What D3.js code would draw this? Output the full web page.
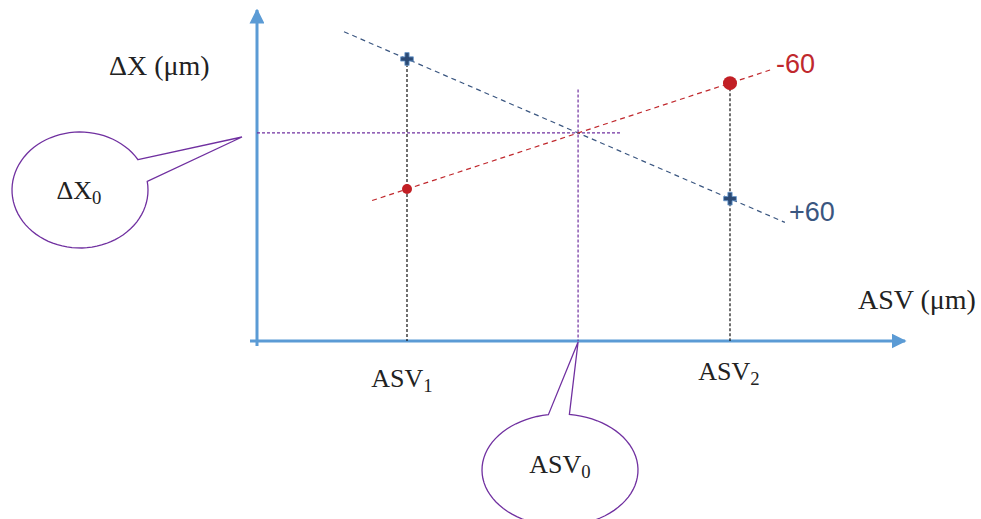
<!DOCTYPE html>
<html>
<head>
<meta charset="utf-8">
<script src="https://cdn.jsdelivr.net/npm/d3@7"></script>
<style>
  body { margin: 0; background: #fff; }
  text { font-family: "Liberation Serif", "DejaVu Serif", serif; }
</style>
</head>
<body>
<div id="chart"></div>
<script>
// data (x in ASV units, y in ΔX units)
const asvPoints = [1, 2];
const asvLabels = ["1", "2"];
const seriesNames = ["+60", "-60"];
const plus60 = [8.52, 4.30];
const minus60 = [4.59, 7.79];
const plusExtent = [0.805, 2.17];
const minusExtent = [0.892, 2.124];
const axisMin = [0.5356, 0];   // where the two axes cross

const W = 981, H = 519;
const svg = d3.select("#chart").append("svg")
    .attr("width", W).attr("height", H)
    .attr("viewBox", `0 0 ${W} ${H}`);

const x = d3.scaleLinear().domain([1, 2]).range([407, 730]);
const y = d3.scaleLinear().domain([0, 10]).range([341, 10]);

const blue = "#5B9BD5", navy = "#3A5680", red = "#C0282D", purple = "#7030A0";

// line helpers
const lineFn = (vals) => {
    const m = (vals[1] - vals[0]) / (asvPoints[1] - asvPoints[0]);
    return t => vals[0] + m * (t - asvPoints[0]);
};
const fPlus = lineFn(plus60), fMinus = lineFn(minus60);
const mP = plus60[1] - plus60[0], mM = minus60[1] - minus60[0];
const x0 = asvPoints[0] + (minus60[0] - plus60[0]) / (mP - mM);
const y0 = fPlus(x0);

// axes
svg.append("defs").append("marker")
    .attr("id", "arr").attr("viewBox", "0 0 10 10")
    .attr("refX", 9).attr("refY", 5)
    .attr("markerWidth", 5).attr("markerHeight", 5)
    .attr("markerUnits", "strokeWidth")
    .attr("orient", "auto")
  .append("path").attr("d", "M0,0L10,5L0,10z").attr("fill", blue);

svg.append("line")
    .attr("x1", x(axisMin[0])).attr("y1", y(-0.15))
    .attr("x2", x(axisMin[0])).attr("y2", y(10))
    .attr("stroke", blue).attr("stroke-width", 3).attr("marker-end", "url(#arr)");
svg.append("line")
    .attr("x1", x(0.514)).attr("y1", y(axisMin[1]))
    .attr("x2", x(2.542)).attr("y2", y(axisMin[1]))
    .attr("stroke", blue).attr("stroke-width", 3).attr("marker-end", "url(#arr)");

// guides to ASV0 / ΔX0
svg.append("line")
    .attr("x1", x(axisMin[0])).attr("y1", y(y0))
    .attr("x2", x(x0) + 42).attr("y2", y(y0))
    .attr("stroke", purple).attr("stroke-width", 1.2).attr("stroke-dasharray", "3,2");
svg.append("line")
    .attr("x1", x(x0)).attr("y1", y(7.6))
    .attr("x2", x(x0)).attr("y2", y(0))
    .attr("stroke", purple).attr("stroke-width", 1.2).attr("stroke-dasharray", "3,2");

// vertical drops at ASV1/ASV2
asvPoints.forEach((a, i) => {
    svg.append("line")
        .attr("x1", x(a)).attr("y1", y(Math.max(plus60[i], minus60[i])))
        .attr("x2", x(a)).attr("y2", y(0))
        .attr("stroke", "#111").attr("stroke-width", 1.2).attr("stroke-dasharray", "3,2");
});

// dashed trend lines
svg.append("line")
    .attr("x1", x(plusExtent[0])).attr("y1", y(fPlus(plusExtent[0])))
    .attr("x2", x(plusExtent[1])).attr("y2", y(fPlus(plusExtent[1])))
    .attr("stroke", navy).attr("stroke-width", 1.2).attr("stroke-dasharray", "5,4");
svg.append("line")
    .attr("x1", x(minusExtent[0])).attr("y1", y(fMinus(minusExtent[0])))
    .attr("x2", x(minusExtent[1])).attr("y2", y(fMinus(minusExtent[1])))
    .attr("stroke", red).attr("stroke-width", 1.2).attr("stroke-dasharray", "5,4");

// markers
svg.selectAll(".plus").data(plus60).enter().append("path")
    .attr("class", "plus")
    .attr("transform", (d, i) => `translate(${x(asvPoints[i])},${y(d)})`)
    .attr("d", d3.symbol(d3.symbolCross, 90))
    .attr("fill", "#2B4A75").attr("stroke", "#6A9BD0").attr("stroke-width", 0.8);
svg.selectAll(".dot").data(minus60).enter().append("circle")
    .attr("class", "dot")
    .attr("cx", (d, i) => x(asvPoints[i])).attr("cy", d => y(d))
    .attr("r", (d, i) => i === 0 ? 5 : 7)
    .attr("fill", "#C21F25");

// series labels
svg.append("text").attr("x", 776).attr("y", 73)
    .attr("fill", red).attr("font-size", 27)
    .style("font-family", "'Liberation Sans', Arial, sans-serif").text(seriesNames[1]);
svg.append("text").attr("x", 789).attr("y", 221)
    .attr("fill", navy).attr("font-size", 27)
    .style("font-family", "'Liberation Sans', Arial, sans-serif").text(seriesNames[0]);

// axis titles
svg.append("text").attr("x", 109).attr("y", 75)
    .attr("fill", "#222").attr("font-size", 28).text("ΔX (μm)");
svg.append("text").attr("x", 858).attr("y", 309)
    .attr("fill", "#222").attr("font-size", 28).text("ASV (μm)");

// ASV1 / ASV2 labels
const sub = (sel, base, s) => {
    sel.append("tspan").text(base);
    sel.append("tspan").attr("font-size", "0.72em").attr("dy", 5).text(s);
};
asvPoints.forEach((a, i) => {
    const t = svg.append("text").attr("x", x(a) - (i === 0 ? 5 : 1)).attr("y", i === 0 ? 387 : 380)
        .attr("text-anchor", "middle").attr("fill", "#222").attr("font-size", 26);
    sub(t, "ASV", asvLabels[i]);
});

// callouts
const callout = (cx, cy, rx, ry, a1, a2, tipX, tipY) => {
    const p1 = [cx + rx * Math.cos(a1), cy + ry * Math.sin(a1)];
    const p2 = [cx + rx * Math.cos(a2), cy + ry * Math.sin(a2)];
    const path = d3.path();
    path.moveTo(p1[0], p1[1]);
    path.lineTo(tipX, tipY);
    path.lineTo(p2[0], p2[1]);
    // arc the long way round the ellipse
    const steps = 80;
    let start = a2, end = a1 + 2 * Math.PI;
    if (end - start > 2 * Math.PI) end -= 2 * Math.PI;
    for (let k = 1; k <= steps; k++) {
        const a = start + (end - start) * k / steps;
        path.lineTo(cx + rx * Math.cos(a), cy + ry * Math.sin(a));
    }
    path.closePath();
    svg.append("path").attr("d", path.toString())
        .attr("fill", "#fff").attr("stroke", purple).attr("stroke-width", 1.3);
};
callout(80, 190, 68, 58, -0.55, -0.15, 242, 137);
callout(560, 470, 78, 56, -1.72, -1.45, x(x0), y(0) + 1);

const t0 = svg.append("text").attr("x", 79).attr("y", 199)
    .attr("text-anchor", "middle").attr("fill", "#222").attr("font-size", 26);
sub(t0, "ΔX", "0");
const t1 = svg.append("text").attr("x", 560).attr("y", 473)
    .attr("text-anchor", "middle").attr("fill", "#222").attr("font-size", 26);
sub(t1, "ASV", "0");
</script>
</body>
</html>
